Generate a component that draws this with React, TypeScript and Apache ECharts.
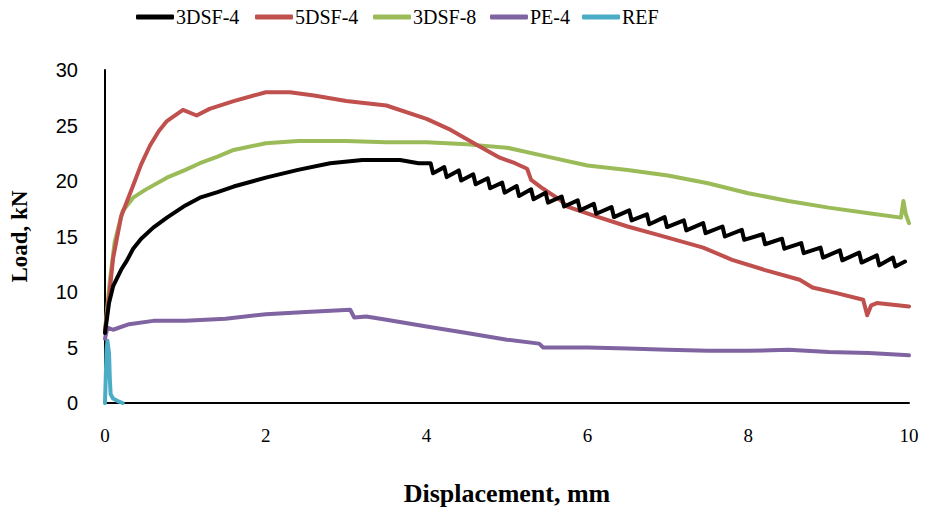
import React, { useEffect, useRef } from "react";
import * as echarts from "echarts";

const seriesNames = ["3DSF-4", "5DSF-4", "3DSF-8", "PE-4", "REF"];
const xTicks = [0, 2, 4, 6, 8, 10];
const yTicks = [0, 5, 10, 15, 20, 25, 30];

const dsf3_4: number[][] = [
  [0, 6.3], [0.05, 9], [0.1, 10.5], [0.2, 12], [0.27, 12.8], [0.35, 13.9], [0.45, 14.8],
  [0.6, 15.8], [0.77, 16.7], [1.0, 17.8], [1.18, 18.5], [1.4, 19.0], [1.6, 19.5],
  [2.0, 20.3], [2.4, 21.0], [2.8, 21.6], [3.2, 21.9], [3.67, 21.9], [3.9, 21.6],
  [4.05, 21.6], [4.08, 20.7], [4.22, 21.25], [4.25, 20.35], [4.4, 20.95], [4.43, 20.05],
  [4.58, 20.6], [4.61, 19.7], [4.76, 20.25], [4.79, 19.35], [4.94, 19.85], [4.97, 18.95],
  [5.12, 19.55], [5.15, 18.65], [5.3, 19.25], [5.33, 18.35], [5.48, 18.95], [5.51, 18.05],
  [5.68, 18.6], [5.71, 17.7], [5.88, 18.25], [5.91, 17.35], [6.08, 17.95], [6.11, 17.05],
  [6.3, 17.65], [6.33, 16.75], [6.52, 17.35], [6.55, 16.45], [6.74, 17.0], [6.77, 16.1],
  [6.96, 16.75], [6.99, 15.85], [7.2, 16.45], [7.23, 15.55], [7.44, 16.2], [7.47, 15.3],
  [7.68, 15.9], [7.71, 15.0], [7.92, 15.6], [7.95, 14.7], [8.18, 15.2], [8.21, 14.3],
  [8.42, 14.8], [8.45, 13.9], [8.66, 14.4], [8.69, 13.5], [8.9, 14.0], [8.93, 13.1],
  [9.14, 13.75], [9.17, 12.85], [9.38, 13.55], [9.41, 12.65], [9.6, 13.3], [9.63, 12.4],
  [9.8, 13.1], [9.83, 12.3], [9.95, 12.75]
];

const dsf5_4: number[][] = [
  [0, 6.5], [0.05, 9.5], [0.1, 13], [0.2, 16.8], [0.35, 19.6], [0.45, 21.5], [0.56, 23.2],
  [0.67, 24.5], [0.77, 25.4], [0.97, 26.4], [1.14, 25.9], [1.3, 26.5], [1.6, 27.2],
  [2.0, 28.0], [2.3, 28.0], [2.6, 27.7], [3.0, 27.2], [3.5, 26.8], [4.0, 25.6],
  [4.3, 24.6], [4.66, 23.1], [4.91, 22.1], [5.1, 21.6], [5.25, 21.1], [5.3, 20.1],
  [5.45, 19.3], [5.66, 18.3], [5.75, 17.7], [6.07, 16.9], [6.5, 15.9], [6.9, 15.1],
  [7.44, 14.0], [7.8, 12.9], [8.2, 12.0], [8.64, 11.1], [8.8, 10.4], [9.1, 9.9],
  [9.43, 9.3], [9.48, 7.9], [9.53, 8.8], [9.6, 9.0], [10.0, 8.7]
];

const dsf3_8: number[][] = [
  [0, 6.5], [0.06, 11], [0.12, 14.5], [0.22, 17.3], [0.35, 18.5], [0.5, 19.2],
  [0.77, 20.3], [1.0, 21.0], [1.18, 21.6], [1.4, 22.2], [1.6, 22.8], [2.0, 23.4],
  [2.4, 23.6], [3.0, 23.6], [3.5, 23.5], [4.0, 23.5], [4.5, 23.3], [5.0, 23.0],
  [5.5, 22.2], [6.0, 21.4], [6.5, 21.0], [7.0, 20.5], [7.5, 19.8], [8.0, 18.9],
  [8.5, 18.2], [9.0, 17.6], [9.5, 17.1], [9.9, 16.7], [9.93, 18.2], [9.96, 17.0], [10.0, 16.2]
];

const pe_4: number[][] = [
  [0, 5.8], [0.03, 6.8], [0.1, 6.6], [0.3, 7.1], [0.6, 7.4], [1.0, 7.4], [1.5, 7.6],
  [2.0, 8.0], [2.5, 8.2], [3.05, 8.4], [3.1, 7.7], [3.25, 7.8], [3.5, 7.5], [4.0, 6.9],
  [4.5, 6.3], [5.0, 5.7], [5.4, 5.35], [5.45, 5.0], [6.0, 5.0], [6.5, 4.9], [7.0, 4.8],
  [7.5, 4.7], [8.0, 4.7], [8.5, 4.8], [9.0, 4.6], [9.5, 4.5], [10.0, 4.3]
];

const ref: number[][] = [
  [0, 0], [0.01, 2.5], [0.02, 4.8], [0.03, 5.6], [0.05, 4.5], [0.06, 2.2],
  [0.07, 0.8], [0.1, 0.4], [0.15, 0.2], [0.22, 0]
];

const colors = ["#000000", "#C0504D", "#9BBB59", "#8064A2", "#4BACC6"];
const allData = [dsf3_4, dsf5_4, dsf3_8, pe_4, ref];
const legendLefts = [131, 250, 368, 485, 577];

const SERIF = "'Liberation Serif', 'DejaVu Serif', serif";
const SANS = "'Liberation Sans', Arial, sans-serif";

export default function App() {
  const ref1 = useRef<HTMLDivElement>(null);
  useEffect(() => {
    if (!ref1.current) return;
    const chart = echarts.init(ref1.current, null, { renderer: "svg" });
    chart.setOption({
      animation: false,
      backgroundColor: "#ffffff",
      legend: seriesNames.map((name, i) => ({
        left: legendLefts[i],
        top: 2,
        itemWidth: 38,
        itemHeight: 5,
        icon: "roundRect",
        textStyle: { fontFamily: SERIF, fontSize: 20, color: "#000", padding: [0, 0, 0, -3] },
        data: [name]
      })),
      grid: { left: 105, right: 39, top: 70, bottom: 106, containLabel: false },
      xAxis: {
        type: "value",
        min: 0,
        max: 10,
        interval: 2,
        name: "Displacement, mm",
        nameLocation: "middle",
        nameGap: 77,
        nameTextStyle: { fontFamily: SERIF, fontSize: 26, fontWeight: "bold", color: "#000" },
        axisLine: { show: true, lineStyle: { color: "#000", width: 2 } },
        axisTick: { show: false },
        splitLine: { show: false },
        axisLabel: {
          margin: 23,
          fontFamily: SERIF,
          fontSize: 19,
          color: "#000",
          formatter: (v: number) => (xTicks.includes(v) ? String(v) : "")
        }
      },
      yAxis: {
        type: "value",
        min: 0,
        max: 30,
        interval: 5,
        name: "Load, kN",
        nameLocation: "middle",
        nameRotate: 90,
        nameGap: 74,
        nameTextStyle: { fontFamily: SERIF, fontSize: 23, fontWeight: "bold", color: "#000" },
        axisLine: { show: true, lineStyle: { color: "#000", width: 2 } },
        axisTick: { show: false },
        splitLine: { show: false },
        axisLabel: {
          margin: 27,
          fontFamily: SANS,
          fontSize: 20,
          color: "#000",
          formatter: (v: number) => (yTicks.includes(v) ? String(v) : "")
        }
      },
      series: seriesNames.map((name, i) => ({
        name,
        type: "line",
        data: allData[i],
        showSymbol: false,
        symbol: "none",
        smooth: false,
        z: 10 - i,
        lineStyle: { color: colors[i], width: 4, join: "round", cap: "round" },
        itemStyle: { color: colors[i] }
      }))
    });
    return () => chart.dispose();
  }, []);
  return (
    <div
      ref={ref1}
      style={{ position: "fixed", left: 0, top: 0, width: 948, height: 511 }}
    />
  );
}
